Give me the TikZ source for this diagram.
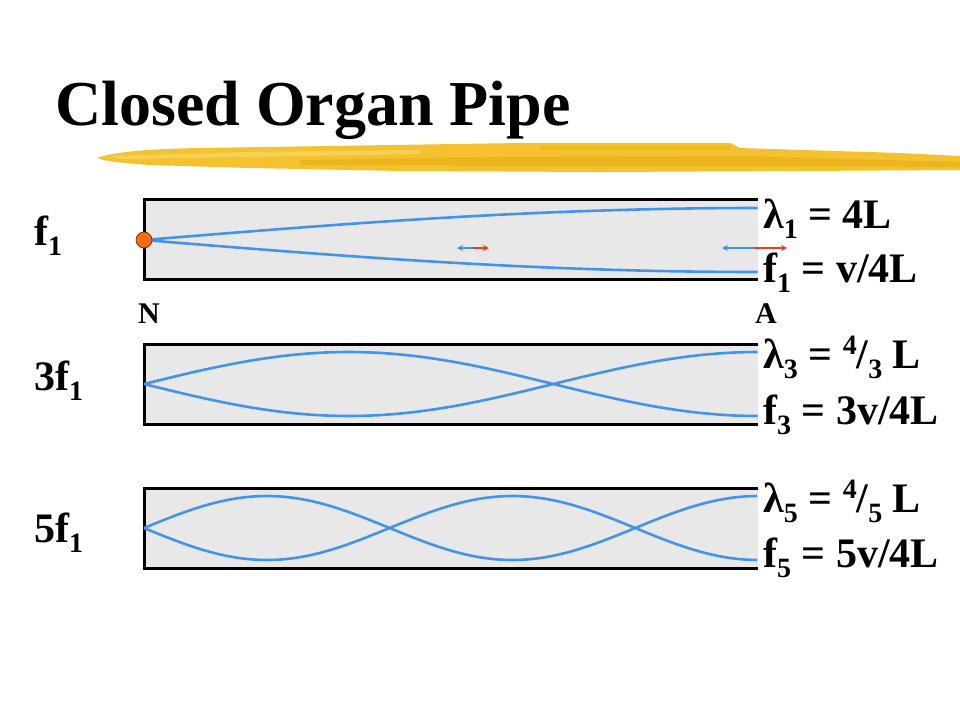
\documentclass[tikz,border=0pt]{standalone}
\usepackage{fontspec}
\setmainfont{Liberation Serif}
\usetikzlibrary{arrows.meta}
\definecolor{pipegray}{HTML}{E8E8E8}
\definecolor{waveblue}{HTML}{4193EC}
\definecolor{arrred}{HTML}{E8401C}
\definecolor{dotorange}{HTML}{FF6A13}
\definecolor{brushA}{HTML}{F3C22E}
\definecolor{brushB}{HTML}{E8AC10}
\definecolor{brushC}{HTML}{F9D866}
\newcommand{\lsub}[1]{\raisebox{-0.24em}{\fontsize{28}{28}\selectfont #1}}
\newcommand{\lsup}[1]{\raisebox{0.33em}{\fontsize{28}{28}\selectfont #1}}
\tikzset{
  lab/.style={anchor=base west, inner sep=0pt, font=\fontsize{42}{42}\selectfont\bfseries},
  endlab/.style={anchor=base west, inner sep=0pt, font=\fontsize{30}{30}\selectfont\bfseries},
  wall/.style={line width=3pt, black},
  wave/.style={line width=2.6pt, waveblue},
  barr/.style={line width=2.2pt, waveblue, -{Stealth[length=6pt,width=6pt]}},
  rarr/.style={line width=2.2pt, arrred, -{Stealth[length=6pt,width=6pt]}}
}
\begin{document}
\begin{tikzpicture}[x=1pt,y=-1pt]
\useasboundingbox (0,0) rectangle (960,720);
\fill[white] (0,0) rectangle (960,720);
% brush stroke
\fill[brushA] (97,158) .. controls (110,153) and (140,149) .. (200,148)
  -- (330,146) -- (520,143) -- (730,143) -- (740,148) -- (900,153) -- (960,156)
  -- (960,170) -- (800,171) -- (600,172) -- (400,171) -- (250,168) -- (150,165)
  .. controls (120,163) and (105,161) .. cycle;
\fill[brushB, opacity=0.55] (300,160) -- (500,157) -- (740,156) -- (960,162) -- (960,167) -- (740,166) -- (500,166) -- (300,165) -- cycle;
\fill[brushC, opacity=0.7] (110,156) -- (250,152) -- (420,150) -- (420,154) -- (250,157) -- (120,159) -- cycle;
\fill[brushB, opacity=0.45] (540,146) -- (730,146) -- (730,150) -- (540,150) -- cycle;
% title
\node[anchor=base west, inner sep=0pt, font=\fontsize{64}{64}\selectfont\bfseries] (title) at (55,125) {Closed Organ Pipe};
% pipes
\foreach \t/\b in {199.5/279.5, 344/424, 488/568}{
  \fill[pipegray] (144,\t) rectangle (758,\b);
  \draw[wall] (758,\t) -- (144,\t) -- (144,\b) -- (758,\b);
}
% waves
\draw[wave] plot[domain=0:1, samples=60] ({144+614*\x},{240-32*sin(90*\x)});
\draw[wave] plot[domain=0:1, samples=60] ({144+614*\x},{240+32*sin(90*\x)});
\draw[wave] plot[domain=0:1, samples=80] ({144+614*\x},{384-32*sin(270*\x)});
\draw[wave] plot[domain=0:1, samples=80] ({144+614*\x},{384+32*sin(270*\x)});
\draw[wave] plot[domain=0:1, samples=100] ({144+614*\x},{528-32*sin(450*\x)});
\draw[wave] plot[domain=0:1, samples=100] ({144+614*\x},{528+32*sin(450*\x)});
% node dot
\node[circle, fill=dotorange, draw=black!70!orange, line width=0.6pt, minimum size=16pt, inner sep=0pt] (dot) at (144,240) {};
% displacement arrows
\coordinate (sa) at (473,248);
\coordinate (sl) at (457,248);
\coordinate (sr) at (489,248);
\draw[barr] (sa) -- (sl);
\draw[rarr] (sa) -- (sr);
\coordinate (la) at (754,248);
\coordinate (ll) at (722,248);
\coordinate (lr) at (787,248);
\draw[barr] (la) -- (ll);
\draw[rarr] (la) -- (lr);
% left labels
\node[lab] (lf1) at (34,245) {f\lsub{1}};
\node[lab] (lf3) at (34,390) {3f\lsub{1}};
\node[lab] (lf5) at (34,542) {5f\lsub{1}};
% N and A
\node[endlab] (N) at (138,323) {N};
\node[endlab] (A) at (755,323) {A};
% right labels
\node[lab] (lam1) at (763,228) {λ\lsub{1} = 4L};
\node[lab] (fr1) at (763,282) {f\lsub{1} = v/4L};
\node[lab] (lam3) at (763,368) {λ\lsub{3} = \lsup{4}/\lsub{3} L};
\node[lab] (fr3) at (763,424) {f\lsub{3} = 3v/4L};
\node[lab] (lam5) at (763,512) {λ\lsub{5} = \lsup{4}/\lsub{5} L};
\node[lab] (fr5) at (763,567) {f\lsub{5} = 5v/4L};
\end{tikzpicture}
\end{document}
